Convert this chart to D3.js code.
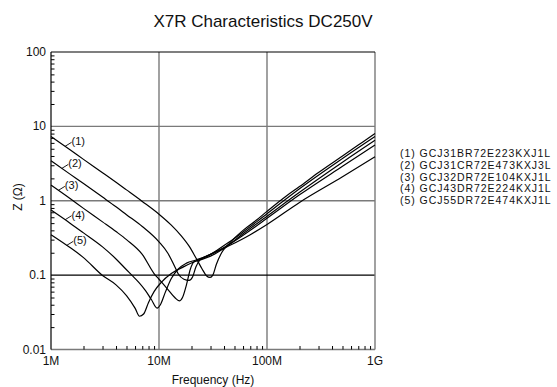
<!DOCTYPE html>
<html>
<head>
<meta charset="utf-8">
<script src="https://cdn.jsdelivr.net/npm/d3@7/dist/d3.min.js"></script>
<style>
  html, body { margin: 0; padding: 0; background: #fff; }
  svg { display: block; font-family: "Liberation Sans", Arial, sans-serif; }
</style>
</head>
<body>
<svg id="chart" width="557" height="387"></svg>
<script>
// Impedance |Z| (ohm) vs frequency (MHz) for each part
const z1 = [[1,7.3],[1.5,4.85],[2,3.6],[3,2.38],[4,1.77],[5,1.4],[7,0.98],[10,0.66],[13,0.47],[16,0.34],[19,0.245],[22,0.17],[25,0.122],[27.5,0.098],[29.7,0.093],[31.5,0.1],[34,0.14],[38,0.2],[45,0.27],[60,0.4],[80,0.55],[100,0.72],[150,1.15],[200,1.55],[300,2.4],[500,4.0],[700,5.6],[1000,8.0]];
const z2 = [[1,3.45],[1.5,2.28],[2,1.7],[3,1.12],[4,0.83],[5,0.65],[7,0.45],[10,0.28],[12,0.2],[14,0.13],[15,0.105],[17,0.088],[19,0.085],[20.5,0.095],[22,0.13],[24,0.16],[28,0.18],[35,0.22],[45,0.28],[60,0.38],[80,0.52],[100,0.67],[200,1.45],[500,3.7],[1000,7.3]];
const z3 = [[1,1.62],[1.5,1.07],[2,0.79],[3,0.52],[4,0.385],[5,0.3],[7,0.19],[9,0.105],[10,0.088],[12,0.065],[14,0.05],[15.4,0.045],[16.5,0.05],[18,0.075],[19.5,0.12],[21,0.15],[24,0.16],[30,0.18],[40,0.23],[60,0.36],[100,0.62],[200,1.3],[500,3.3],[1000,6.5]];
const z4 = [[1,0.75],[1.5,0.5],[2,0.37],[3,0.24],[4,0.165],[5,0.118],[5.6,0.1],[6.5,0.08],[7.5,0.062],[8.5,0.047],[9.6,0.036],[10.3,0.04],[11.5,0.06],[13,0.09],[15,0.12],[18,0.145],[22,0.16],[30,0.19],[45,0.26],[70,0.4],[100,0.58],[200,1.2],[500,2.9],[1000,5.6]];
const z5 = [[1,0.35],[1.5,0.235],[2,0.172],[3,0.099],[4,0.074],[5,0.053],[6,0.036],[6.6,0.028],[7.2,0.03],[8,0.043],[9,0.06],[10.5,0.08],[13,0.105],[17,0.13],[22,0.155],[30,0.19],[45,0.25],[70,0.35],[100,0.48],[200,0.95],[500,2.1],[1000,3.9]];

const seriesData = [z1, z2, z3, z4, z5];
const seriesTags = ["(1)", "(2)", "(3)", "(4)", "(5)"];
const partNames = ["GCJ31BR72E223KXJ1L", "GCJ31CR72E473KXJ3L", "GCJ32DR72E104KXJ1L", "GCJ43DR72E224KXJ1L", "GCJ55DR72E474KXJ1L"];
// frequency (MHz) on each curve where its tag is attached
const tagFreqs = [1.35, 1.26, 1.17, 1.35, 1.4];

const xTickVals = [1, 10, 100, 1000];
const xTickLabels = ["1M", "10M", "100M", "1G"];
const yTickVals = [0.01, 0.1, 1, 10, 100];
const yTickLabels = ["0.01", "0.1", "1", "10", "100"];

const titleText = "X7R Characteristics DC250V";
const xTitle = "Frequency (Hz)";
const yTitle = "Z (\u03A9)";

const gray = "#7a7a7a";
const svg = d3.select("#chart");

const x = d3.scaleLog().domain([1, 1000]).range([51, 375]);
const y = d3.scaleLog().domain([0.01, 100]).range([349.5, 52]);

// title
svg.append("text").attr("x", 263).attr("y", 27).attr("text-anchor", "middle")
  .attr("font-size", 17).attr("fill", "#111").text(titleText);

// grid lines
const grid = svg.append("g");
[10, 100].forEach(v => grid.append("line")
  .attr("x1", x(v)).attr("x2", x(v)).attr("y1", y(100)).attr("y2", y(0.01))
  .attr("stroke", gray).attr("stroke-width", 1.4));
[10, 1].forEach(v => grid.append("line")
  .attr("x1", x(1)).attr("x2", x(1000)).attr("y1", y(v)).attr("y2", y(v))
  .attr("stroke", gray).attr("stroke-width", 1.4));
grid.append("line").attr("x1", x(1)).attr("x2", x(1000)).attr("y1", y(0.1)).attr("y2", y(0.1))
  .attr("stroke", "#000").attr("stroke-width", 1.2);

// frame: top & left dark, bottom & right gray
svg.append("line").attr("x1", x(1000)).attr("x2", x(1000)).attr("y1", y(100)).attr("y2", y(0.01))
  .attr("stroke", gray).attr("stroke-width", 1.4);
svg.append("line").attr("x1", x(1)).attr("x2", x(1000)).attr("y1", y(0.01)).attr("y2", y(0.01))
  .attr("stroke", gray).attr("stroke-width", 1.4);
svg.append("line").attr("x1", x(1)).attr("x2", x(1000)).attr("y1", y(100)).attr("y2", y(100))
  .attr("stroke", "#000").attr("stroke-width", 1.2);
svg.append("line").attr("x1", x(1)).attr("x2", x(1)).attr("y1", y(100)).attr("y2", y(0.01))
  .attr("stroke", "#000").attr("stroke-width", 1.2);

// minor ticks (inward)
const minorX = [], minorY = [];
[1, 10, 100].forEach(d => { for (let k = 2; k <= 9; k++) minorX.push(d * k); });
[0.01, 0.1, 1, 10].forEach(d => { for (let k = 2; k <= 9; k++) minorY.push(d * k); });
const yAxis = d3.axisRight(y).tickValues(minorY).tickSize(3.5).tickFormat("");
svg.append("g").attr("transform", `translate(${x(1)},0)`).call(yAxis)
  .call(g => g.select(".domain").remove())
  .call(g => g.selectAll("line").attr("stroke", "#000"));
const xAxis = d3.axisTop(x).tickValues(minorX).tickSize(3.5).tickFormat("");
svg.append("g").attr("transform", `translate(0,${y(0.01)})`).call(xAxis)
  .call(g => g.select(".domain").remove())
  .call(g => g.selectAll("line").attr("stroke", "#000"));

// tick labels
svg.append("g").selectAll("text").data(yTickVals).join("text")
  .attr("x", 46).attr("y", d => y(d) + 4).attr("text-anchor", "end")
  .attr("font-size", 12).attr("fill", "#111")
  .text((d, i) => yTickLabels[i]);
svg.append("g").selectAll("text").data(xTickVals).join("text")
  .attr("x", d => x(d)).attr("y", 365).attr("text-anchor", "middle")
  .attr("font-size", 12).attr("fill", "#111")
  .text((d, i) => xTickLabels[i]);

// axis titles
svg.append("text").attr("x", 213).attr("y", 384).attr("text-anchor", "middle")
  .attr("font-size", 12).attr("fill", "#111").text(xTitle);
svg.append("text").attr("transform", "translate(22,197) rotate(-90)")
  .attr("text-anchor", "middle").attr("font-size", 12).attr("fill", "#111").text(yTitle);

// impedance curves
const line = d3.line().x(d => x(d[0])).y(d => y(d[1])).curve(d3.curveMonotoneX);
svg.append("g").selectAll("path").data(seriesData).join("path")
  .attr("d", line).attr("fill", "none").attr("stroke", "#000").attr("stroke-width", 1.2);

// log-log interpolation of a curve at frequency f
function valueAt(data, f) {
  for (let i = 0; i < data.length - 1; i++) {
    const [f0, z0] = data[i], [f1, z1v] = data[i + 1];
    if (f >= f0 && f <= f1) {
      const t = (Math.log(f) - Math.log(f0)) / (Math.log(f1) - Math.log(f0));
      return Math.exp(Math.log(z0) + t * (Math.log(z1v) - Math.log(z0)));
    }
  }
  return data[0][1];
}

// curve tags with short leaders
const tags = svg.append("g");
seriesData.forEach((data, i) => {
  const px = x(tagFreqs[i]), py = y(valueAt(data, tagFreqs[i]));
  tags.append("line").attr("x1", px).attr("y1", py).attr("x2", px + 6.5).attr("y2", py - 4)
    .attr("stroke", "#000").attr("stroke-width", 0.9);
  tags.append("text").attr("x", px + 6.5).attr("y", py - 1).attr("font-size", 11)
    .attr("fill", "#111").text(seriesTags[i]);
});

// legend
svg.append("g").selectAll("text").data(partNames).join("text")
  .attr("x", 400).attr("y", (d, i) => 157 + i * 11.8)
  .attr("font-size", 10.5).attr("letter-spacing", 0.95).attr("fill", "#111")
  .text((d, i) => `${seriesTags[i]} ${d}`);
</script>
</body>
</html>
